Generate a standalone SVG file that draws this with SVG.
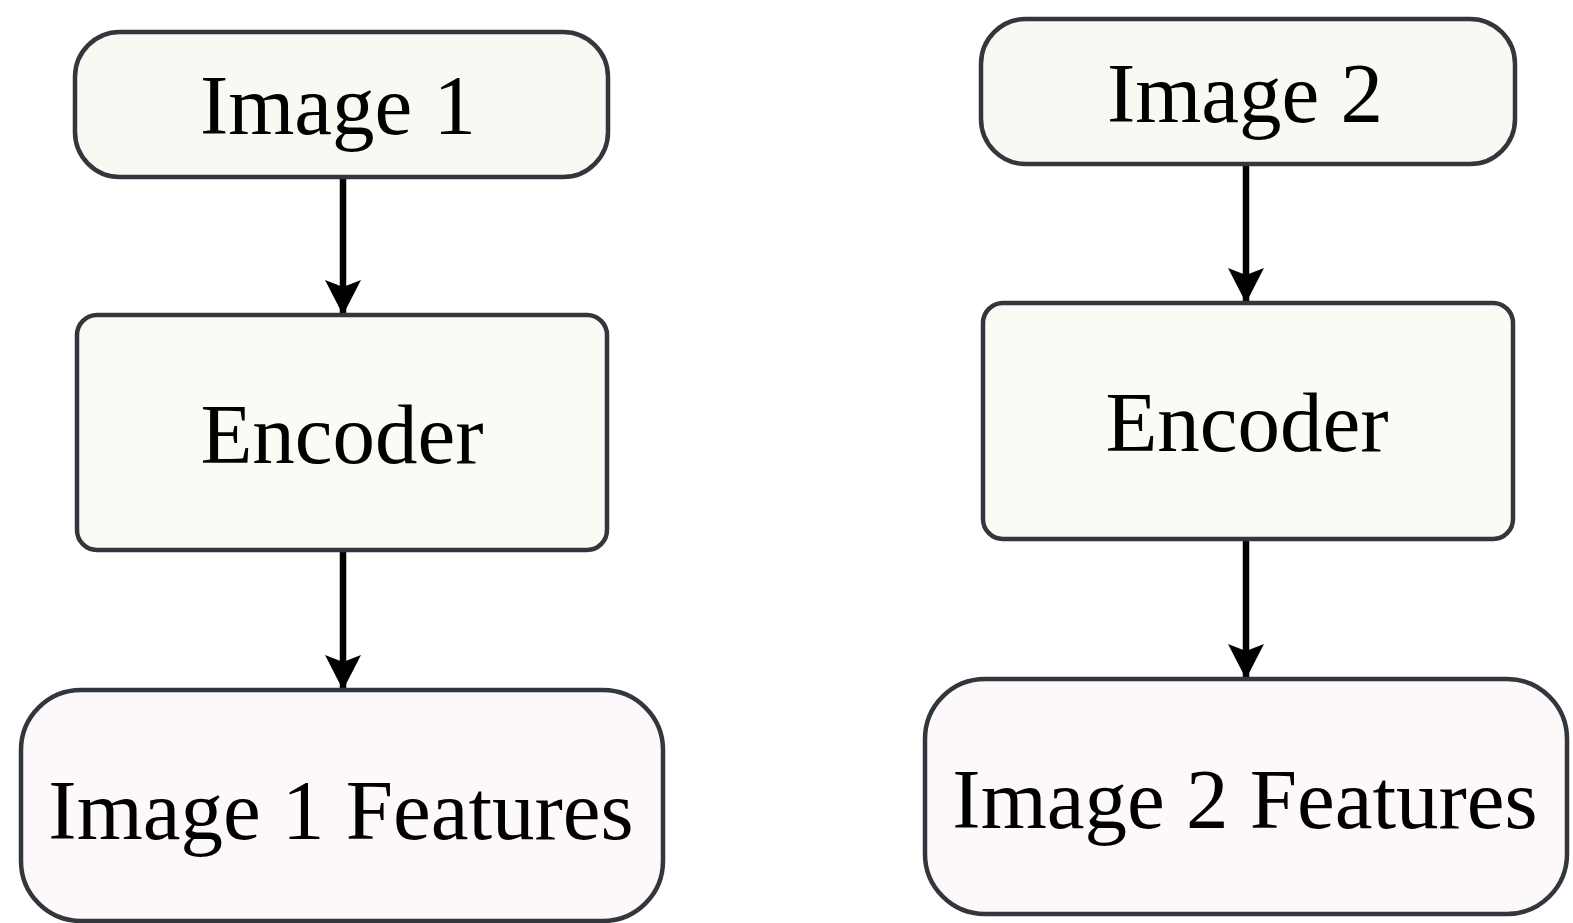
<svg xmlns="http://www.w3.org/2000/svg" width="1573" height="923" viewBox="0 0 1573 923">
  <defs>
    <style>
      .box { stroke: #33373d; stroke-width: 4.5; }
      .src { fill: #f9f9f3; }
      .enc { fill: #fcfaf4; }
      .feat { fill: #fdf8f9; }
      .lbl { font-family: "Liberation Serif", "Times New Roman", serif; font-size: 85px; fill: #000; text-anchor: middle; }
      .edge { stroke: #000; stroke-width: 6.5; fill: none; marker-end: url(#arrow); }
    </style>
    <marker id="arrow" markerUnits="userSpaceOnUse" viewBox="0 0 36 36" refX="35" refY="18" markerWidth="36" markerHeight="36" orient="auto">
      <path d="M0,0 L35,18 L0,36 L7,18 Z" fill="#000"/>
    </marker>
  </defs>
  <rect width="1573" height="923" fill="#ffffff"/>

  <g id="connectors">
    <path class="edge" d="M343,177 L343,315"/>
    <path class="edge" d="M343,547 L343,690"/>
    <path class="edge" d="M1246,164 L1246,303"/>
    <path class="edge" d="M1246,537 L1246,679"/>
  </g>

  <g id="image1">
    <rect class="box src" x="75" y="32" width="533" height="145" rx="45"/>
    <text class="lbl" x="338" y="134">Image 1</text>
  </g>
  <g id="encoder1">
    <rect class="box enc" x="77" y="315" width="530" height="235" rx="20"/>
    <text class="lbl" x="342" y="463">Encoder</text>
  </g>
  <g id="features1">
    <rect class="box feat" x="21" y="690" width="642" height="231" rx="60"/>
    <text class="lbl" x="341" y="839">Image 1 Features</text>
  </g>

  <g id="image2">
    <rect class="box src" x="981" y="19" width="534" height="145" rx="45"/>
    <text class="lbl" x="1245" y="122">Image 2</text>
  </g>
  <g id="encoder2">
    <rect class="box enc" x="983" y="303" width="530" height="236" rx="20"/>
    <text class="lbl" x="1247" y="451">Encoder</text>
  </g>
  <g id="features2">
    <rect class="box feat" x="925" y="679" width="642" height="235" rx="60"/>
    <text class="lbl" x="1245" y="828">Image 2 Features</text>
  </g>
</svg>
